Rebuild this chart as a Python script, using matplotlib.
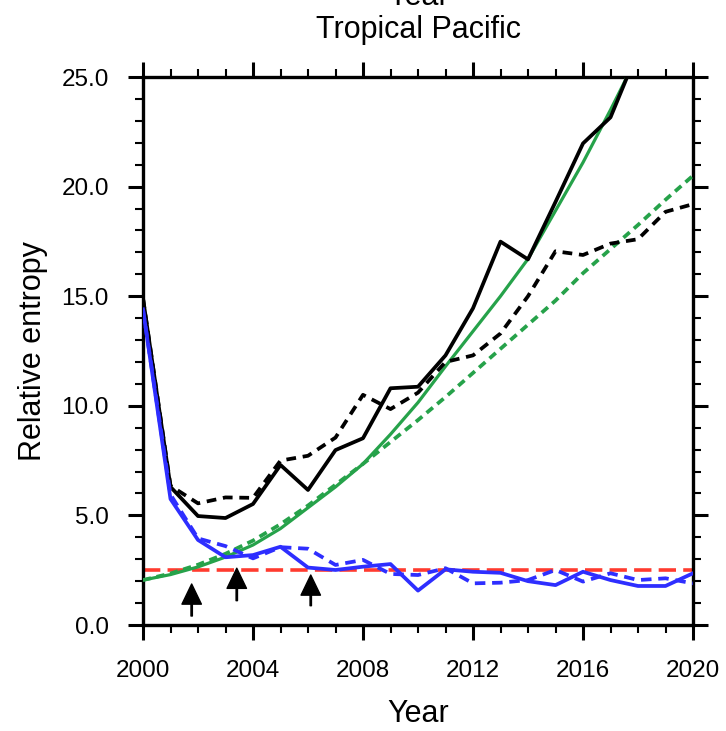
import matplotlib
matplotlib.use("Agg")
import matplotlib.pyplot as plt
from matplotlib.ticker import MultipleLocator, FormatStrFormatter

plt.rcParams['font.family'] = ['Liberation Sans', 'DejaVu Sans']

# ---- data ----
years = list(range(2000, 2021))
black_solid = [14.9, 6.3, 4.97, 4.88, 5.52, 7.3, 6.16, 7.98, 8.52, 10.8, 10.87,
               12.3, 14.45, 17.49, 16.68, 19.3, 21.97, 23.16, 26.2, 27.6, 29.0]
black_dashed = [14.9, 6.35, 5.55, 5.82, 5.8, 7.5, 7.72, 8.55, 10.5, 9.85, 10.6,
                12.0, 12.3, 13.3, 15.0, 17.05, 16.88, 17.4, 17.6, 18.85, 19.2]
green_solid = [2.05, 2.3, 2.65, 3.1, 3.65, 4.4, 5.35, 6.3, 7.35, 8.7, 10.15,
               11.8, 13.4, 15.0, 16.7, 18.9, 21.1, 23.5, 26.0, 28.6, 31.2]
green_dashed = [2.05, 2.35, 2.75, 3.25, 3.85, 4.6, 5.45, 6.4, 7.35, 8.35, 9.35,
                10.4, 11.5, 12.6, 13.7, 14.8, 16.05, 17.15, 18.25, 19.4, 20.5]
blue_solid = [14.4, 5.75, 3.88, 3.09, 3.19, 3.57, 2.62, 2.51, 2.66, 2.78, 1.57,
              2.54, 2.43, 2.38, 2.0, 1.82, 2.43, 2.05, 1.78, 1.78, 2.36]
blue_dashed = [14.4, 5.95, 3.95, 3.6, 3.04, 3.55, 3.48, 2.74, 2.97, 2.33, 2.28,
               2.59, 1.9, 1.93, 2.05, 2.51, 1.98, 2.36, 2.05, 2.13, 1.9]
threshold = 2.5
arrow_x = [2001.77, 2003.41, 2006.1]
arrow_tip = [1.87, 2.59, 2.28]
arrow_tail = [0.41, 1.11, 0.88]

title_lines = ["Year", "Tropical Pacific"]
xlabel = "Year"
ylabel = "Relative entropy"

# ---- figure ----
W, H = 726, 731
fig = plt.figure(figsize=(W / 100, H / 100), dpi=100)
ax = fig.add_axes([143 / W, (H - 625) / H, (693 - 143) / W, (625 - 77) / H])

blue = '#2e2eff'
green = '#26a24a'
red = '#ff3b2f'

ax.plot([years[0], years[-1]], [threshold, threshold], color=red, lw=2.6,
        dashes=(4.8, 2.0), zorder=2)
ax.plot(years, green_solid, color=green, lw=2.3, zorder=3)
ax.plot(years, green_dashed, color=green, lw=2.7, dashes=(2.2, 1.5), zorder=3)
ax.plot(years, black_solid, color='black', lw=2.7, zorder=4)
ax.plot(years, black_dashed, color='black', lw=2.7, dashes=(2.6, 1.8), zorder=4)
ax.plot(years, blue_solid, color=blue, lw=2.7, zorder=5)
ax.plot(years, blue_dashed, color=blue, lw=2.7, dashes=(2.8, 1.8), zorder=5)

for x, tip, tail in zip(arrow_x, arrow_tip, arrow_tail):
    ax.annotate('', xy=(x, tip), xytext=(x, tail),
                arrowprops=dict(facecolor='black', edgecolor='black', width=1.0,
                                headwidth=14.0, headlength=14.5, shrink=0.0),
                zorder=6)

ax.set_xlim(2000, 2020)
ax.set_ylim(0, 25)
ax.xaxis.set_major_locator(MultipleLocator(4))
ax.xaxis.set_minor_locator(MultipleLocator(1))
ax.yaxis.set_major_locator(MultipleLocator(5))
ax.yaxis.set_minor_locator(MultipleLocator(1))
ax.yaxis.set_major_formatter(FormatStrFormatter('%.1f'))

for s in ax.spines.values():
    s.set_linewidth(2.4)
ax.tick_params(which='both', direction='out', top=True, right=True,
               labeltop=False, labelright=False)
ax.tick_params(which='major', length=10.5, width=2.2, labelsize=17.5)
ax.tick_params(which='minor', length=5.5, width=1.5)
ax.tick_params(axis='x', which='major', pad=15)
ax.tick_params(axis='y', which='major', pad=14)

ax.set_xlabel(xlabel, fontsize=22, labelpad=12)
ax.set_ylabel(ylabel, fontsize=22)
ax.yaxis.set_label_coords(-(143 - 33) / (693 - 143), 0.5)
ax.yaxis.label.set_va('center')

cx = (143 + 693) / 2 / W
fig.text(cx, 1 - 38 / H, title_lines[1], ha='center', va='baseline', fontsize=22)
fig.text(cx, 1 - 5 / H, title_lines[0], ha='center', va='baseline', fontsize=22)

fig.savefig('out.png', dpi=100)
